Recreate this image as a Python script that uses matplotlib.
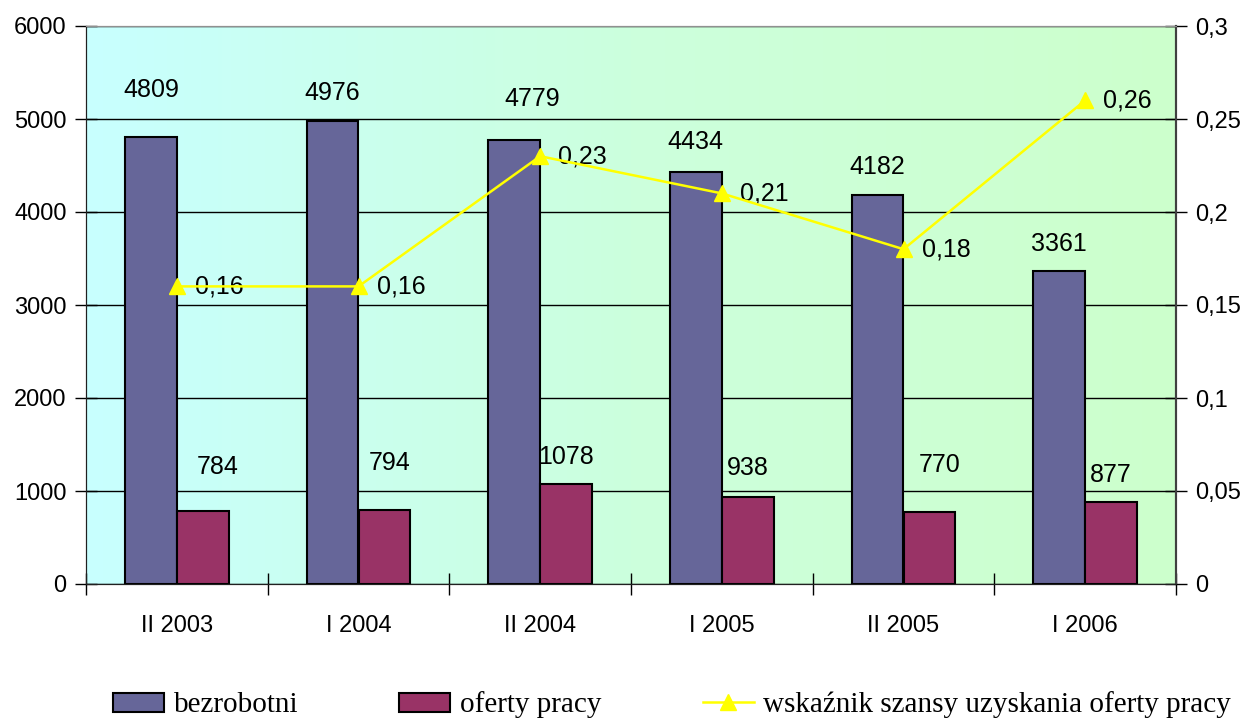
import matplotlib
matplotlib.use("Agg")
import matplotlib.pyplot as plt
import numpy as np
from matplotlib.colors import LinearSegmentedColormap

# data
okresy = ["II 2003", "I 2004", "II 2004", "I 2005", "II 2005", "I 2006"]
bezrobotni = [4809, 4976, 4779, 4434, 4182, 3361]
oferty = [784, 794, 1078, 938, 770, 877]
wskaznik = [0.16, 0.16, 0.23, 0.21, 0.18, 0.26]

# label offsets (points) - in the original some labels were moved by hand
off_bez = [(0, 34), (0, 20), (13, 29), (0, 21), (0, 20), (0, 20)]
off_ofe = [(11, 32), (4, 34), (0, 19.5), (0, 21), (7, 34), (0, 19.5)]

def pl(v):
    s = ("%.2f" % v).rstrip("0").rstrip(".")
    return s.replace(".", ",")

fig = plt.figure(figsize=(12.6, 7.18), dpi=100)
ax = fig.add_axes([86/1260, 1-584/718, 1090/1260, 558/718])
ax2 = ax.twinx()

# gradient background cyan -> light green
cmap = LinearSegmentedColormap.from_list("bg", ["#C8FFFF", "#CCFFDD", "#CCFFCC"])
grad = np.linspace(0, 1, 256).reshape(1, -1)
ax.imshow(grad, cmap=cmap, extent=[0, 1, 0, 1], transform=ax.transAxes,
          aspect="auto", zorder=0)

x = np.arange(len(okresy))
w = 0.286
ax.bar(x - w/2, bezrobotni, w, color="#666699", edgecolor="black", linewidth=1.5,
       zorder=2, label="bezrobotni")
ax.bar(x + w/2, oferty, w, color="#993366", edgecolor="black", linewidth=1.5,
       zorder=2, label="oferty pracy")

for i in range(len(x)):
    ax.annotate(str(bezrobotni[i]), (x[i] - w/2, bezrobotni[i]), xytext=off_bez[i],
                textcoords="offset points", ha="center", va="center",
                fontsize=18, family="Liberation Sans", zorder=5)
    ax.annotate(str(oferty[i]), (x[i] + w/2, oferty[i]), xytext=off_ofe[i],
                textcoords="offset points", ha="center", va="center",
                fontsize=18, family="Liberation Sans", zorder=5)

ax2.plot(x, wskaznik, color="#FFFF00", linewidth=1.8, marker="^", markersize=11,
         label="wskaźnik szansy uzyskania oferty pracy", zorder=4)
for i in range(len(x)):
    ax2.annotate(pl(wskaznik[i]), (x[i], wskaznik[i]), xytext=(13, 0),
                 textcoords="offset points", ha="left", va="center",
                 fontsize=18, family="Liberation Sans")

ax.set_xlim(-0.5, len(okresy) - 0.5)
ax.set_ylim(0, 6000)
ax2.set_ylim(0, 0.3)
ax.set_yticks(np.arange(0, 6001, 1000))
ax2.set_yticks(np.arange(0, 0.301, 0.05))
ax2.set_yticklabels([pl(v) for v in np.arange(0, 0.301, 0.05)])
ax.set_xticks(x)
ax.set_xticklabels(okresy)
ax.set_xticks(np.arange(-0.5, len(okresy)), minor=True)

ax.set_axisbelow(True)
ax.yaxis.grid(True, color="black", linewidth=1)
ax.tick_params(axis="x", which="major", length=0, pad=22, labelsize=17)
ax.tick_params(axis="x", which="minor", direction="inout", length=16, width=1)
ax.tick_params(axis="y", direction="inout", length=16, width=1, pad=6, labelsize=17)
ax2.tick_params(axis="y", direction="inout", length=16, width=1, pad=6, labelsize=17)
for a in (ax, ax2):
    for t in a.get_xticklabels() + a.get_yticklabels():
        t.set_family("Liberation Sans")
    a.spines["top"].set_color("#909090")
    a.spines["left"].set_color("#202020")
    a.spines["right"].set_color("#404040")
    a.spines["bottom"].set_color("#202020")
    a.spines["right"].set_linewidth(1.5)

h1, l1 = ax.get_legend_handles_labels()
h2, l2 = ax2.get_legend_handles_labels()
fig.legend(h1 + h2, l1 + l2, loc="center", bbox_to_anchor=(672/1260, 1-705/718),
           ncol=3, frameon=False, prop={"family": "Liberation Serif", "size": 21},
           handlelength=1.75, handleheight=0.65, handletextpad=0.34,
           columnspacing=3.46, borderpad=0, borderaxespad=0)

fig.savefig("out.png", dpi=100)
